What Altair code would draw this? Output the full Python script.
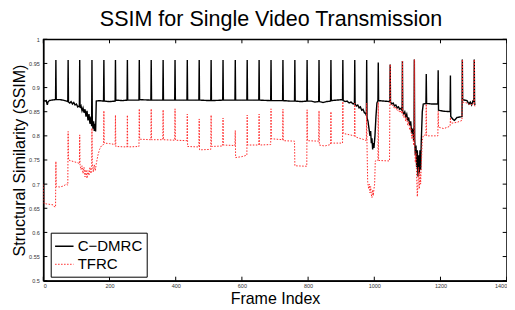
import altair as alt
import pandas as pd

# ---- data (frame index, SSIM) ----
cdmrc = [
    (0, 0.874), (5, 0.872), (9, 0.873), (12, 0.864), (14, 0.870), (18, 0.873), (25, 0.874),
    (37, 0.875), (38, 0.957), (39, 0.875), (50, 0.875), (60, 0.874), (70, 0.872),
    (74, 0.871), (75, 0.957), (76, 0.870), (80, 0.868), (84, 0.871), (88, 0.866), (92, 0.869),
    (96, 0.864), (100, 0.866), (104, 0.860), (109, 0.862), (110, 0.957), (111, 0.858),
    (114, 0.862), (117, 0.852), (120, 0.858), (123, 0.848), (126, 0.855), (129, 0.840),
    (132, 0.852), (135, 0.832), (138, 0.845), (141, 0.825), (144, 0.840), (146, 0.820),
    (147, 0.957), (148, 0.835), (150, 0.815), (152, 0.830), (154, 0.810), (156, 0.825),
    (158, 0.809), (160, 0.872), (170, 0.873), (182, 0.872), (183, 0.957), (184, 0.872),
    (200, 0.871), (217, 0.872), (218, 0.957), (219, 0.874), (240, 0.873), (253, 0.874),
    (254, 0.957), (255, 0.874), (289, 0.874), (290, 0.957), (291, 0.875), (325, 0.874),
    (326, 0.957), (327, 0.874), (361, 0.874), (362, 0.957), (363, 0.874), (397, 0.874),
    (398, 0.957), (399, 0.874), (434, 0.874), (435, 0.957), (436, 0.874), (470, 0.874),
    (471, 0.957), (472, 0.874), (506, 0.873), (507, 0.957), (508, 0.873), (542, 0.874),
    (543, 0.957), (544, 0.874), (579, 0.874), (580, 0.957), (581, 0.874), (615, 0.874),
    (616, 0.957), (617, 0.874), (651, 0.874), (652, 0.957), (653, 0.874), (687, 0.873),
    (688, 0.957), (689, 0.873), (723, 0.873), (724, 0.957), (725, 0.873), (745, 0.872),
    (759, 0.872), (760, 0.957), (761, 0.872), (780, 0.871), (796, 0.872), (797, 0.957),
    (798, 0.872), (810, 0.872), (820, 0.870), (832, 0.871), (833, 0.957), (834, 0.871),
    (845, 0.869), (855, 0.871), (868, 0.872), (869, 0.957), (870, 0.873), (885, 0.874),
    (904, 0.875), (905, 0.957), (906, 0.873), (912, 0.871), (918, 0.872), (924, 0.868),
    (930, 0.870), (936, 0.866), (940, 0.867), (941, 0.957), (942, 0.866), (946, 0.862),
    (950, 0.864), (954, 0.858), (958, 0.860), (962, 0.853), (966, 0.855), (970, 0.848),
    (974, 0.846), (976, 0.842), (977, 0.957), (978, 0.838), (981, 0.830), (984, 0.815),
    (987, 0.800), (989, 0.810), (991, 0.785), (993, 0.795), (995, 0.772), (997, 0.785),
    (999, 0.775), (1002, 0.800), (1005, 0.840), (1008, 0.868), (1011, 0.873),
    (1012, 0.952), (1013, 0.873), (1030, 0.872), (1047, 0.871), (1048, 0.948),
    (1049, 0.870), (1053, 0.866), (1057, 0.868), (1061, 0.862), (1065, 0.864),
    (1069, 0.858), (1073, 0.860), (1077, 0.855), (1081, 0.857), (1084, 0.852),
    (1085, 0.955), (1086, 0.850), (1089, 0.846), (1092, 0.850), (1095, 0.840),
    (1098, 0.845), (1101, 0.832), (1104, 0.838), (1107, 0.822), (1110, 0.830),
    (1113, 0.805), (1116, 0.815), (1119, 0.790), (1120, 0.800), (1121, 0.958),
    (1122, 0.795), (1124, 0.760), (1126, 0.780), (1128, 0.735), (1130, 0.770),
    (1132, 0.716), (1134, 0.760), (1136, 0.722), (1138, 0.770), (1140, 0.730),
    (1142, 0.790), (1145, 0.850), (1148, 0.866), (1156, 0.867), (1157, 0.928),
    (1158, 0.867), (1175, 0.866), (1192, 0.866), (1193, 0.936), (1194, 0.853),
    (1210, 0.851), (1229, 0.850), (1230, 0.925), (1231, 0.840), (1238, 0.834),
    (1242, 0.832), (1250, 0.838), (1265, 0.840), (1266, 0.958), (1267, 0.875),
    (1280, 0.873), (1286, 0.866), (1290, 0.870), (1294, 0.864), (1298, 0.872),
    (1301, 0.871), (1302, 0.958), (1303, 0.866), (1306, 0.865),
]

tfrc = [
    (0, 0.700), (2, 0.660), (10, 0.659), (20, 0.658), (30, 0.657), (35, 0.652), (37, 0.654),
    (38, 0.747), (39, 0.695), (50, 0.694), (60, 0.696), (70, 0.700), (74, 0.698),
    (75, 0.809), (76, 0.750), (85, 0.748), (95, 0.746), (105, 0.744), (109, 0.742),
    (110, 0.802), (111, 0.740), (114, 0.730), (117, 0.738), (120, 0.722), (123, 0.735),
    (126, 0.715), (129, 0.730), (132, 0.712), (135, 0.728), (138, 0.718), (141, 0.735),
    (144, 0.722), (146, 0.730), (147, 0.816), (148, 0.745), (151, 0.725), (154, 0.740),
    (157, 0.728), (160, 0.742), (165, 0.760), (170, 0.772), (176, 0.780), (182, 0.782),
    (183, 0.852), (184, 0.785), (200, 0.784), (217, 0.782), (218, 0.843), (219, 0.778),
    (253, 0.777), (254, 0.843), (255, 0.777), (289, 0.778), (290, 0.856), (291, 0.793),
    (325, 0.792), (326, 0.856), (327, 0.792), (361, 0.792), (362, 0.854), (363, 0.792),
    (397, 0.791), (398, 0.856), (399, 0.791), (434, 0.790), (435, 0.845), (436, 0.778),
    (470, 0.777), (471, 0.835), (472, 0.771), (506, 0.772), (507, 0.843), (508, 0.778),
    (542, 0.779), (543, 0.837), (544, 0.781), (579, 0.780), (580, 0.811), (581, 0.755),
    (600, 0.757), (615, 0.760), (616, 0.843), (617, 0.781), (651, 0.781), (652, 0.845),
    (653, 0.781), (687, 0.782), (688, 0.856), (689, 0.794), (723, 0.792), (724, 0.855),
    (725, 0.790), (759, 0.789), (760, 0.738), (796, 0.737), (797, 0.854), (798, 0.790),
    (832, 0.789), (833, 0.852), (834, 0.781), (850, 0.779), (868, 0.782), (869, 0.850),
    (870, 0.785), (904, 0.785), (905, 0.871), (906, 0.805), (920, 0.803), (940, 0.800),
    (941, 0.868), (942, 0.798), (955, 0.795), (970, 0.792), (976, 0.790), (977, 0.868),
    (978, 0.780), (980, 0.705), (983, 0.690), (985, 0.700), (987, 0.682), (989, 0.695),
    (991, 0.678), (993, 0.672), (995, 0.688), (997, 0.676), (999, 0.690), (1001, 0.700),
    (1003, 0.748), (1011, 0.749), (1012, 0.870), (1013, 0.749), (1046, 0.748),
    (1047, 0.866), (1048, 0.948), (1049, 0.866), (1053, 0.862), (1057, 0.864),
    (1061, 0.856), (1065, 0.860), (1069, 0.852), (1073, 0.855), (1077, 0.848),
    (1081, 0.852), (1084, 0.846), (1085, 0.955), (1086, 0.844), (1089, 0.838),
    (1092, 0.845), (1095, 0.830), (1098, 0.838), (1101, 0.822), (1104, 0.830),
    (1107, 0.812), (1110, 0.820), (1113, 0.795), (1116, 0.805), (1119, 0.780),
    (1120, 0.790), (1121, 0.958), (1122, 0.785), (1124, 0.745), (1126, 0.765),
    (1128, 0.715), (1130, 0.674), (1132, 0.700), (1134, 0.735), (1136, 0.690),
    (1138, 0.725), (1140, 0.700), (1142, 0.740), (1145, 0.790), (1148, 0.801),
    (1156, 0.802), (1157, 0.866), (1158, 0.800), (1192, 0.800), (1193, 0.851),
    (1194, 0.818), (1210, 0.815), (1229, 0.820), (1230, 0.838), (1231, 0.826),
    (1250, 0.828), (1265, 0.832), (1266, 0.958), (1267, 0.870), (1280, 0.868),
    (1290, 0.864), (1301, 0.866), (1302, 0.958), (1303, 0.862), (1306, 0.862),
]

series_names = ["C\u2212DMRC", "TFRC"]
y_ticks = [0.5, 0.55, 0.6, 0.65, 0.7, 0.75, 0.8, 0.85, 0.9, 0.95, 1.0]
x_ticks = [0, 200, 400, 600, 800, 1000, 1200, 1400]

rows = []
for name, pts in zip(series_names, [cdmrc, tfrc]):
    for i, (f, v) in enumerate(pts):
        rows.append({"frame": f, "ssim": v, "series": name, "idx": i})
df = pd.DataFrame(rows)

W, H = 463.4, 241.4
PL, PT, PB = 35.3, 31.3, 28.0
FONT = "Liberation Sans"

xs = alt.Scale(domain=[0, 1400], nice=False, zero=False)
ys = alt.Scale(domain=[0.5, 1.0], nice=False, zero=False)

x_axis = alt.Axis(
    values=x_ticks, format="d", title="Frame Index", ticks=False, grid=False,
    labelFontSize=5.5, labelColor="#333", labelPadding=2.5, labelFont=FONT,
    titleFontSize=16, titleFont=FONT, titleFontWeight="normal", titleColor="black",
    titleX=W / 2, titleY=22.6, titleBaseline="alphabetic", titleAlign="center",
    domainColor="black", domainWidth=1.5)
y_axis = alt.Axis(
    values=y_ticks, format="~g", title="Structural Similarity (SSIM)", ticks=False,
    grid=False, labelFontSize=5.5, labelColor="#333", labelPadding=4, labelFont=FONT,
    titleFontSize=16, titleFont=FONT, titleFontWeight="normal", titleColor="black",
    titleX=-19.3, titleY=H / 2, titleAngle=270, titleBaseline="alphabetic",
    titleAlign="center", domainColor="black", domainWidth=1.5)

leg = dict(title=None, orient="none", legendX=7.4, legendY=193.4,
           strokeColor="black", fillColor="white", padding=3.6,
           labelFontSize=15, labelFont=FONT, labelColor="black",
           symbolType="stroke", symbolSize=340, symbolStrokeWidth=1.2,
           rowPadding=0, labelOffset=3.4, cornerRadius=0)

lines = alt.Chart(df).mark_line(clip=True).encode(
    x=alt.X("frame:Q", scale=xs, axis=x_axis),
    y=alt.Y("ssim:Q", scale=ys, axis=y_axis),
    color=alt.Color("series:N", scale=alt.Scale(domain=series_names, range=["#000000", "#ff2a2a"]),
                    legend=alt.Legend(**leg)),
    strokeDash=alt.StrokeDash("series:N", scale=alt.Scale(domain=series_names, range=[[1, 0], [1.5, 1.5]]),
                              legend=alt.Legend(**leg)),
    strokeWidth=alt.StrokeWidth("series:N", scale=alt.Scale(domain=series_names, range=[1.4, 1.0]), legend=None),
    order="idx:Q",
)

ytdf = pd.DataFrame({"ssim": y_ticks})
xtdf = pd.DataFrame({"frame": x_ticks})

tick_left = alt.Chart(ytdf).mark_rule(color="black", strokeWidth=1).encode(
    y=alt.Y("ssim:Q", scale=ys, axis=y_axis), x=alt.value(0), x2=alt.value(4))
tick_right = alt.Chart(ytdf).mark_rule(color="black", strokeWidth=1).encode(
    y=alt.Y("ssim:Q", scale=ys, axis=y_axis), x=alt.value(W - 4), x2=alt.value(W))
tick_bottom = alt.Chart(xtdf).mark_rule(color="black", strokeWidth=1).encode(
    x=alt.X("frame:Q", scale=xs, axis=x_axis), y=alt.value(H - 4), y2=alt.value(H))
tick_top = alt.Chart(xtdf).mark_rule(color="black", strokeWidth=1).encode(
    x=alt.X("frame:Q", scale=xs, axis=x_axis), y=alt.value(0), y2=alt.value(4))

chart = alt.layer(lines, tick_left, tick_right, tick_bottom, tick_top).properties(
    width=W, height=H,
    title=alt.TitleParams("SSIM for Single Video Transmission", fontSize=21.5, font=FONT,
                          fontWeight="normal", anchor="middle", offset=7, dx=-4, color="black"),
    autosize=alt.AutoSizeParams(type="none"),
    padding={"left": PL, "top": PT, "right": 0.3, "bottom": PB},
    background="white",
).configure_view(stroke="black", strokeWidth=1.3)

chart.save("out.html", embed_options={"renderer": "svg", "actions": False})
